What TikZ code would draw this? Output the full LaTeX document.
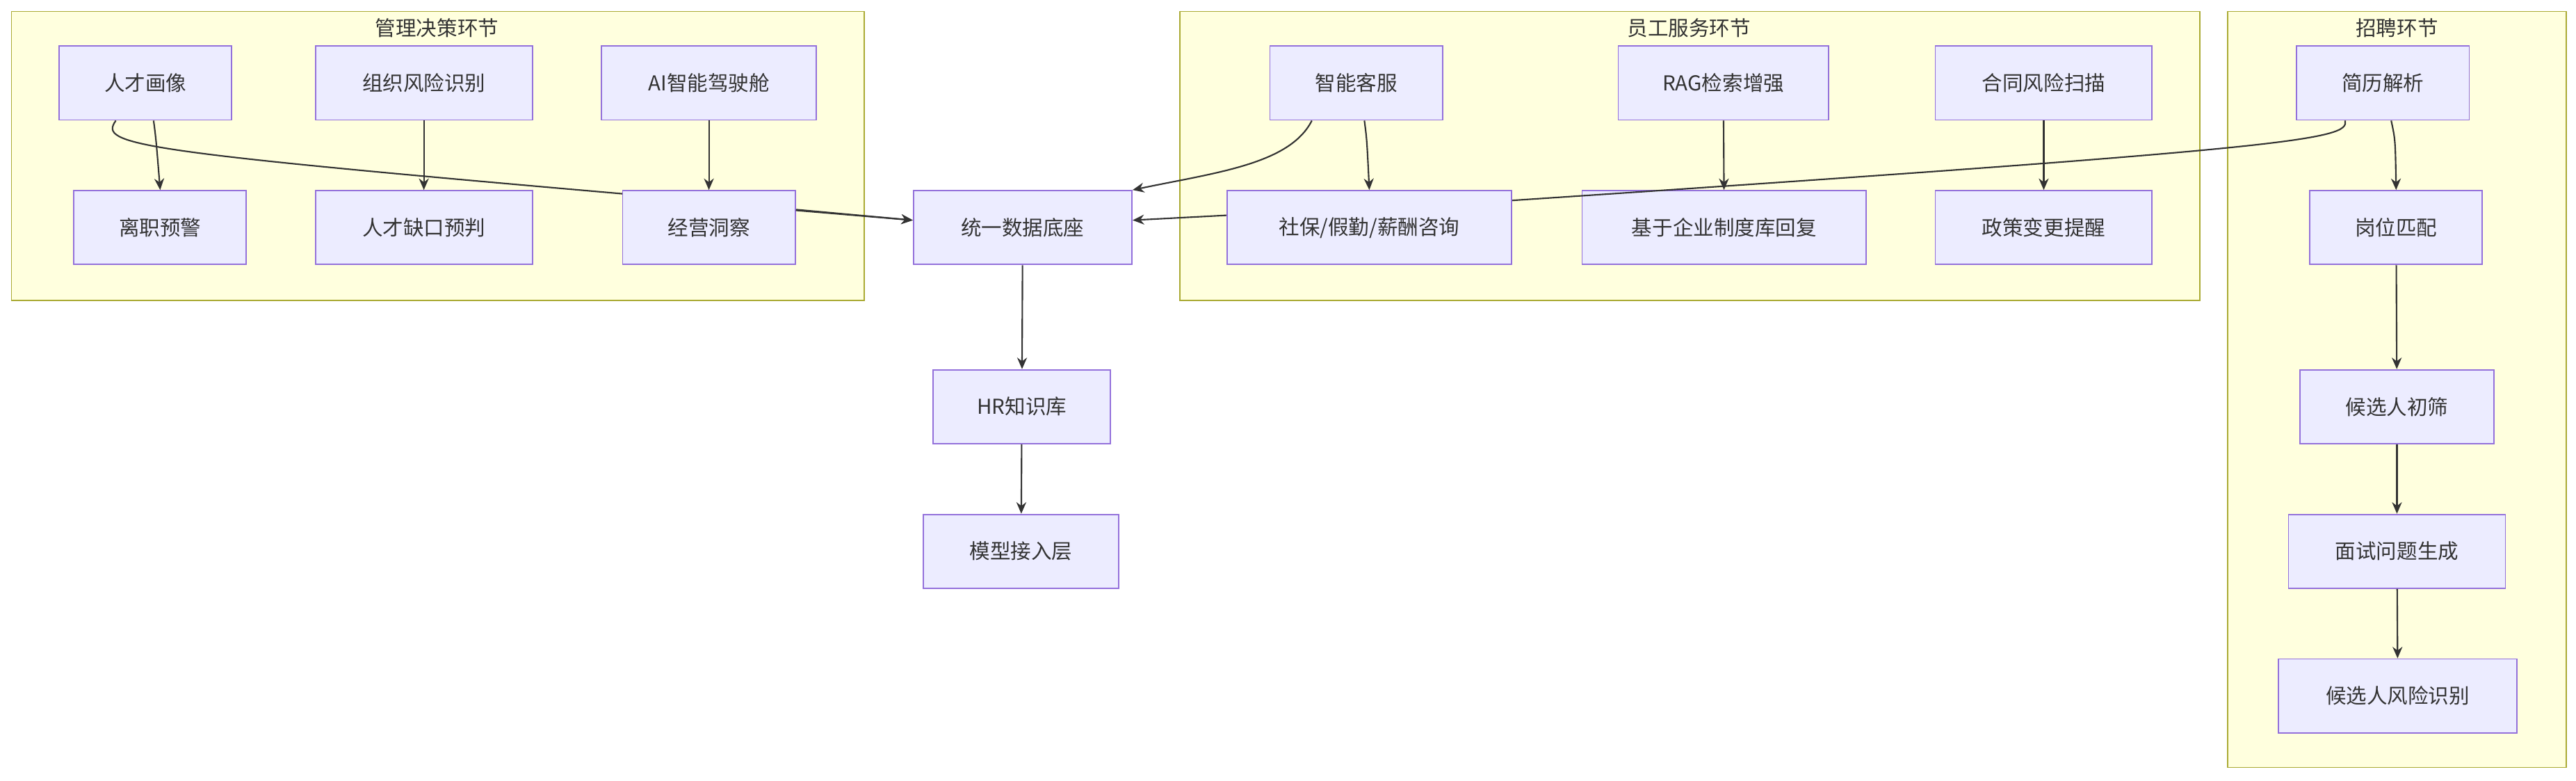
\documentclass[tikz,border=0pt]{standalone}
\usepackage{fontspec}
\setmainfont{Noto Sans CJK SC}
\usetikzlibrary{arrows.meta}
\definecolor{nfill}{HTML}{ECECFF}
\definecolor{nline}{HTML}{9370DB}
\definecolor{cfill}{HTML}{FFFFDE}
\definecolor{cline}{HTML}{AAAA33}
\definecolor{edge}{HTML}{333333}
\begin{document}
\begin{tikzpicture}[x=1pt,y=-1pt,
  box/.style={draw=nline,fill=nfill,line width=0.8pt,minimum height=45pt,inner sep=0pt,font=\fontsize{12.5}{14}\selectfont,text=edge},
  clu/.style={draw=cline,fill=cfill,line width=0.8pt},
  ctitle/.style={font=\fontsize{12.5}{14}\selectfont,text=edge},
  arr/.style={draw=edge,line width=0.9pt,-{Stealth[length=7pt,width=6pt]}}]
\useasboundingbox[fill=white] (0,0) rectangle (1568,475);
\draw[clu] (7,7) rectangle (526,183);
\draw[clu] (718,7) rectangle (1339,183);
\draw[clu] (1356,7) rectangle (1562,467);
\node[ctitle] (t1) at (266,17) {管理决策环节};
\node[ctitle] (t2) at (1028,17) {员工服务环节};
\node[ctitle] (t3) at (1459,17) {招聘环节};
\node[box,minimum width=105pt] (rchx) at (88.5,50.5) {人才画像};
\node[box,minimum width=132pt] (zzfx) at (258,50.5) {组织风险识别};
\node[box,minimum width=131pt] (ai) at (431.5,50.5) {AI智能驾驶舱};
\node[box,minimum width=105pt] (lzyj) at (97.5,138.5) {离职预警};
\node[box,minimum width=132pt] (rcqk) at (258,138.5) {人才缺口预判};
\node[box,minimum width=133pt] (db) at (622.5,138.5) {统一数据底座};
\node[box,minimum width=108pt] (hr) at (622,247.5) {HR知识库};
\node[box,minimum width=119pt] (mx) at (621.5,335.5) {模型接入层};
\node[box,minimum width=105pt] (kf) at (825.5,50.5) {智能客服};
\node[box,minimum width=128pt] (rag) at (1049,50.5) {RAG检索增强};
\node[box,minimum width=132pt] (ht) at (1244,50.5) {合同风险扫描};
\node[box,minimum width=173pt] (jy) at (1049.5,138.5) {基于企业制度库回复};
\node[box,minimum width=132pt] (zc) at (1244,138.5) {政策变更提醒};
\node[box,minimum width=105pt] (jl) at (1450.5,50.5) {简历解析};
\node[box,minimum width=105pt] (gw) at (1458.5,138.5) {岗位匹配};
\node[box,minimum width=118pt] (cs) at (1459,247.5) {候选人初筛};
\node[box,minimum width=132pt] (ms) at (1459,335.5) {面试问题生成};
\node[box,minimum width=145pt] (fx) at (1459.5,423.5) {候选人风险识别};
% long edges passing behind nodes
\draw[arr] ([xshift=-18pt]rchx.south) .. controls (60,88) and (80,92) .. (380,118) -- (db.west |- 0,134);
\draw[arr] ([xshift=-23pt]jl.south) .. controls (1430,85) and (1400,90) .. (920,122) -- (db.east |- 0,134);
\node[box,minimum width=105pt] (jydc) at (431.5,138.5) {经营洞察};
\node[box,minimum width=173pt] (sb) at (833.5,138.5) {社保/假勤/薪酬咨询};
\draw[arr] ([xshift=5pt]rchx.south) .. controls (95,85) .. (lzyj.north);
\draw[arr] (zzfx) -- (rcqk);
\draw[arr] (ai) -- (jydc);
\draw[arr] (jydc.east |- 0,128) -- (db.west |- 0,134);
\draw[arr] ([xshift=-27pt]kf.south) .. controls (785,100) and (740,105) .. (db.north east);
\draw[arr] ([xshift=5pt]kf.south) .. controls (832,85) .. (sb.north);
\draw[arr] (rag) -- (jy);
\draw[arr] (ht) -- (zc);
\draw[arr] ([xshift=5pt]jl.south) .. controls (1458,85) .. (gw.north);
\draw[arr] (db) -- (hr);
\draw[arr] (hr) -- (mx);
\draw[arr] (gw) -- (cs);
\draw[arr] (cs) -- (ms);
\draw[arr] (ms) -- (fx);
\end{tikzpicture}
\end{document}
